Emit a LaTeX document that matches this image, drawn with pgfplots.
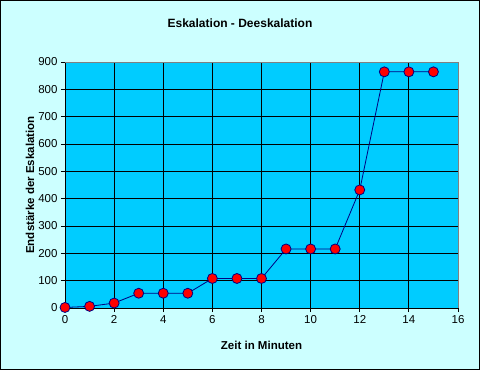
\documentclass[border=0pt]{standalone}
\usepackage{pgfplots}
\pgfplotsset{compat=1.18}
\usepackage{fontspec}
\setmainfont{Liberation Sans}
\definecolor{outerbg}{HTML}{CCFFFF}
\definecolor{plotbg}{HTML}{00CCFF}
\definecolor{linecol}{HTML}{000080}
\begin{document}
\begin{tikzpicture}
\fill[outerbg] (0,0) rectangle (480bp,370bp);
\draw[black,line width=1bp] (0.5bp,0.5bp) rectangle (479.5bp,369.5bp);
\node[font=\fontsize{12bp}{14bp}\selectfont\bfseries] at (240bp,347bp) {Eskalation - Deeskalation};
\begin{axis}[
  at={(65bp,62bp)}, anchor=south west,
  scale only axis, width=393bp, height=246bp,
  xmin=0, xmax=16, ymin=0, ymax=900,
  xtick={0,2,...,16}, ytick={0,100,...,900},
  axis background/.style={fill=plotbg},
  axis x line*=bottom, axis y line*=left,
  axis line style={black, line width=0.8bp, -},
  grid=major, grid style={black, line width=0.8bp},
  tick align=outside, major tick length=4bp,
  tick style={black, line width=0.8bp},
  ticklabel style={font=\fontsize{11.5bp}{13bp}\selectfont},
  /pgf/number format/assume math mode=true,
  xlabel={\bfseries Zeit in Minuten},
  ylabel={\bfseries Endstärke der Eskalation},
  label style={font=\fontsize{11.5bp}{13bp}\selectfont},
  xlabel style={at={(axis description cs:0.5,-0.150)}, anchor=center},
  ylabel style={at={(axis description cs:-0.089,0.5)}, anchor=center},
  clip=false,
]
\addplot[color=linecol, line width=0.8bp, mark=*, mark size=5bp,
  mark options={fill=red, draw=linecol, line width=0.8bp}]
  coordinates {(0,2) (1,6) (2,18) (3,54) (4,54) (5,54) (6,108) (7,108) (8,108)
  (9,216) (10,216) (11,216) (12,432) (13,864) (14,864) (15,864)};
\draw[gray, line width=1bp] (rel axis cs:0,1) -- (rel axis cs:1,1) -- (rel axis cs:1,0);
\end{axis}
\end{tikzpicture}
\end{document}
